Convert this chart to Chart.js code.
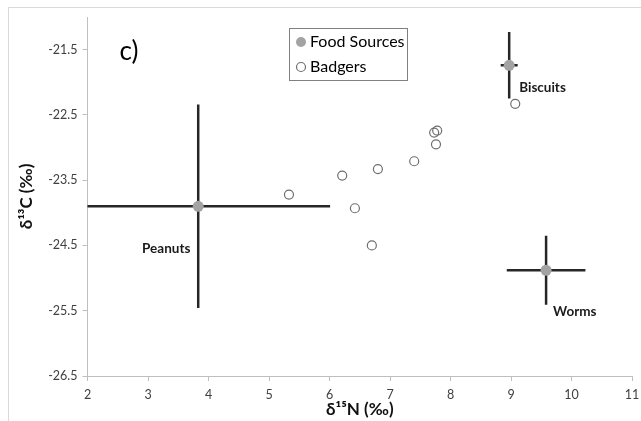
<!DOCTYPE html>
<html>
<head>
<meta charset="utf-8">
<script src="https://cdn.jsdelivr.net/npm/chart.js@4/dist/chart.umd.min.js"></script>
<style>
  body { margin: 0; background: #fff; }
  #wrap { width: 641px; height: 421px; }
</style>
</head>
<body>
<div id="wrap"><canvas id="isotopes" width="641" height="421"></canvas></div>
<script>
// food sources: mean d15N, d13C and the spread (error bars)
var foodNames = ['Peanuts', 'Biscuits', 'Worms'];
var foodN = [3.83, 8.97, 9.58];
var foodC = [-23.90, -21.74, -24.88];
var foodErrN = [2.18, 0.14, 0.65];
var foodErrC = [1.56, 0.51, 0.53];

// badger samples
var badgerN = [5.33, 6.21, 6.42, 6.70, 6.80, 7.40, 7.73, 7.76, 7.78, 9.07];
var badgerC = [-23.72, -23.43, -23.93, -24.50, -23.33, -23.21, -22.77, -22.95, -22.74, -22.33];

var yTicks = [-26.5, -25.5, -24.5, -23.5, -22.5, -21.5];

var axisGrey = '#bfbfbf';
var foodGrey = '#a3a3a3';
var fontFam = 'Lato, "Open Sans", sans-serif';

function toPoints(xs, ys) {
  return xs.map(function (x, i) { return { x: x, y: ys[i] }; });
}

// error bars, drawn under the points
var errorBars = {
  id: 'errorBars',
  beforeDatasetsDraw: function (chart) {
    var ctx = chart.ctx, xs = chart.scales.x, ys = chart.scales.y, a = chart.chartArea;
    ctx.save();
    ctx.beginPath();
    ctx.rect(a.left, a.top, a.right - a.left, a.bottom - a.top);
    ctx.clip();
    ctx.strokeStyle = '#262626';
    ctx.lineWidth = 2.5;
    for (var i = 0; i < foodN.length; i++) {
      var px = xs.getPixelForValue(foodN[i]);
      var py = ys.getPixelForValue(foodC[i]);
      ctx.beginPath();
      ctx.moveTo(xs.getPixelForValue(foodN[i] - foodErrN[i]), py);
      ctx.lineTo(xs.getPixelForValue(foodN[i] + foodErrN[i]), py);
      ctx.moveTo(px, ys.getPixelForValue(foodC[i] - foodErrC[i]));
      ctx.lineTo(px, ys.getPixelForValue(foodC[i] + foodErrC[i]));
      ctx.stroke();
    }
    ctx.restore();
  }
};

// labels next to the food sources, panel letter, legend and frame
var extras = {
  id: 'extras',
  afterDraw: function (chart) {
    var ctx = chart.ctx, xs = chart.scales.x, ys = chart.scales.y, a = chart.chartArea;
    var offs = [[-32, 42, 'center'], [10, 22, 'left'], [7, 41, 'left']];
    ctx.save();
    ctx.fillStyle = '#1a1a1a';
    ctx.font = 'bold 13.5px ' + fontFam;
    ctx.textBaseline = 'middle';
    for (var i = 0; i < foodNames.length; i++) {
      ctx.textAlign = offs[i][2];
      ctx.fillText(foodNames[i], xs.getPixelForValue(foodN[i]) + offs[i][0], ys.getPixelForValue(foodC[i]) + offs[i][1]);
    }

    ctx.textAlign = 'left';
    ctx.font = '26px ' + fontFam;
    ctx.fillStyle = '#000';
    ctx.fillText('c)', a.left + 32, a.top + 35);

    // legend box
    ctx.strokeStyle = '#808080';
    ctx.lineWidth = 1;
    ctx.strokeRect(289.5, 28.5, 118, 52);
    ctx.font = '16px ' + fontFam;
    ctx.fillStyle = '#000';
    ctx.fillText('Food Sources', 310, 42);
    ctx.fillText('Badgers', 310, 67);
    ctx.beginPath();
    ctx.arc(301, 42, 5, 0, Math.PI * 2);
    ctx.fillStyle = foodGrey;
    ctx.fill();
    ctx.beginPath();
    ctx.arc(301, 67, 4.5, 0, Math.PI * 2);
    ctx.fillStyle = '#fff';
    ctx.fill();
    ctx.strokeStyle = '#6e6e6e';
    ctx.lineWidth = 1.2;
    ctx.stroke();

    // outer frame
    ctx.strokeStyle = '#d9d9d9';
    ctx.lineWidth = 1;
    ctx.strokeRect(8.5, 7.5, 700, 500);
    ctx.restore();
  }
};

var chart = new Chart(document.getElementById('isotopes'), {
  type: 'scatter',
  data: {
    datasets: [
      {
        label: 'Food Sources',
        data: toPoints(foodN, foodC),
        pointRadius: 5.5,
        pointBackgroundColor: foodGrey,
        pointBorderColor: foodGrey,
        pointBorderWidth: 0
      },
      {
        label: 'Badgers',
        data: toPoints(badgerN, badgerC),
        pointRadius: 4.5,
        pointBackgroundColor: 'rgba(255,255,255,0)',
        pointBorderColor: '#6e6e6e',
        pointBorderWidth: 1.2
      }
    ]
  },
  options: {
    responsive: false,
    animation: false,
    layout: { padding: { left: 0, right: 9, top: 17, bottom: 0 } },
    plugins: {
      legend: { display: false },
      tooltip: { enabled: false }
    },
    scales: {
      x: {
        type: 'linear',
        min: 2,
        max: 11,
        ticks: { stepSize: 1, color: '#404040', font: { family: fontFam, size: 12.5 }, padding: 6 },
        grid: { drawOnChartArea: false, color: axisGrey, tickLength: 5 },
        border: { color: axisGrey },
        title: { display: true, text: 'δ¹⁵N (‰)', color: '#111', font: { family: fontFam, size: 17, weight: 'bold' }, padding: { top: 0, bottom: 1 } },
        afterFit: function (s) { s.height = 45; s.paddingRight = 0; }
      },
      y: {
        type: 'linear',
        min: -26.5,
        max: -21,
        afterBuildTicks: function (s) { s.ticks = yTicks.map(function (v) { return { value: v }; }); },
        ticks: { color: '#404040', font: { family: fontFam, size: 12.5 }, padding: 5 },
        grid: { drawOnChartArea: false, color: axisGrey, tickLength: 5 },
        border: { color: axisGrey },
        title: { display: true, text: 'δ¹³C (‰)', color: '#111', font: { family: fontFam, size: 17, weight: 'bold' }, padding: { top: 16, bottom: 0 } },
        afterFit: function (s) { s.width = 87.5; }
      }
    }
  },
  plugins: [errorBars, extras]
});
</script>
</body>
</html>
